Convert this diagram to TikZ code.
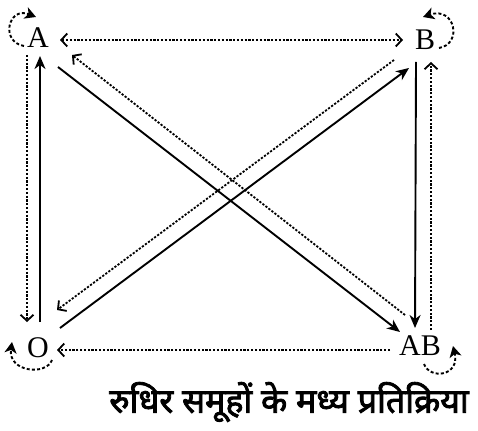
\documentclass[tikz,border=0pt]{standalone}
\usepackage{fontspec}
\setmainfont{Liberation Serif}
\newfontfamily\hindi[Script=Devanagari,FakeBold=2.5]{Noto Sans}
\usetikzlibrary{arrows.meta,calc}
\tikzset{
  lbl/.style={inner sep=0pt,font=\fontsize{30}{30}\selectfont},
  sol/.style={line width=1.9pt,-{Stealth[length=13pt,width=11pt,inset=4pt]}},
  dot/.style={line width=1.8pt,dash pattern=on 2.2pt off 1.6pt,-{Straight Barb[length=6pt,width=13pt,line width=1.8pt]}},
  dotboth/.style={line width=1.8pt,dash pattern=on 2.2pt off 1.6pt,{Straight Barb[length=6pt,width=13pt,line width=1.8pt]}-{Straight Barb[length=6pt,width=13pt,line width=1.8pt]}},
  loopa/.style={line width=1.9pt,dash pattern=on 3pt off 2.2pt,-{Stealth[length=11pt,width=12pt,inset=3pt]}}
}
\begin{document}
\begin{tikzpicture}[x=1pt,y=-1pt]
\useasboundingbox (0,0) rectangle (478,430);
\node[lbl] (A) at (38,38) {A};
\node[lbl] (B) at (425,40) {B};
\node[lbl] (O) at (38,348) {O};
\node[lbl] (AB) at (420,346) {AB};
\node[font=\hindi\fontsize{34}{34}\selectfont,inner sep=0pt] (cap) at (289,402) {रुधिर समूहों के मध्य प्रतिक्रिया};
% horizontals
\draw[dotboth] ($(A)+(22,2)$) -- ($(B)+(-22,0)$);
\draw[dot] ($(AB)+(-30,4)$) -- ($(O)+(19,2)$);
% left verticals
\draw[dot] ($(A)+(-11,17)$) -- ($(O)+(-11,-26)$);
\draw[sol] ($(O)+(2,-26)$) -- ($(A)+(2,18)$);
% right verticals
\draw[sol] ($(B)+(-9,22)$) -- ($(AB)+(-5,-18)$);
\draw[dot] ($(AB)+(11,-16)$) -- ($(B)+(6,22)$);
% diagonals
\draw[sol] ($(A)+(20,29)$) -- ($(AB)+(-20,-14)$);
\draw[dot] ($(AB)+(-15,-31)$) -- ($(A)+(34,17)$);
\draw[sol] ($(O)+(22,-20)$) -- ($(B)+(-16,28)$);
\draw[dot] ($(B)+(-31,20)$) -- ($(O)+(19,-38)$);
% self loops
\draw[loopa] ($(A)+(-14,8)$) .. controls ($(A)+(-38,4)$) and ($(A)+(-30,-32)$) .. ($(A)+(-2,-21)$);
\draw[loopa] ($(B)+(14,8)$) .. controls ($(B)+(38,4)$) and ($(B)+(30,-34)$) .. ($(B)+(-2,-23)$);
\draw[loopa] ($(O)+(14,12)$) .. controls ($(O)+(8,28)$) and ($(O)+(-30,24)$) .. ($(O)+(-26,-6)$);
\draw[loopa] ($(AB)+(4,18)$) .. controls ($(AB)+(10,34)$) and ($(AB)+(40,30)$) .. ($(AB)+(33,0)$);
\end{tikzpicture}
\end{document}
